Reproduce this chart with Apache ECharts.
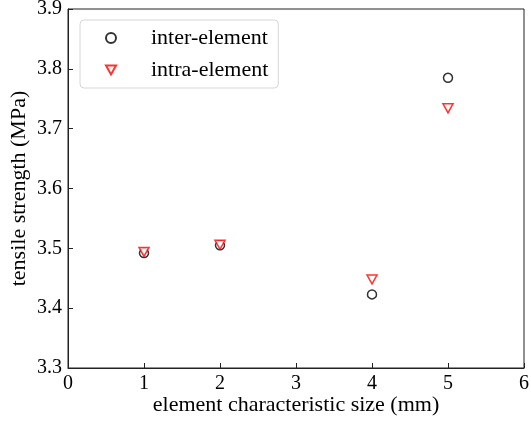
<!DOCTYPE html>
<html>
<head>
<meta charset="utf-8">
<script src="https://cdn.jsdelivr.net/npm/echarts@6/dist/echarts.min.js"></script>
<style>
  html, body { margin: 0; padding: 0; background: #fff; }
  #container { width: 531px; height: 423px; }
</style>
</head>
<body>
<div id="container"></div>
<script>
/* 数据 */
var sizes = [1, 2, 4, 5];
var interElement = [3.492, 3.505, 3.423, 3.785];
var intraElement = [3.494, 3.506, 3.448, 3.734];
var xTicks = [0, 1, 2, 3, 4, 5, 6];
var yTicks = [3.3, 3.4, 3.5, 3.6, 3.7, 3.8, 3.9];

function pairs(xs, ys) {
    var out = [];
    for (var i = 0; i < xs.length; i++) {
        out.push([xs[i], ys[i]]);
    }
    return out;
}

var serif = '"Liberation Serif", "DejaVu Serif", serif';
var triDown = 'path://M0,0 L10,0 L5,9 Z';

var dom = document.getElementById("container");
var myChart = echarts.init(dom);

var option = {
    animation: false,
    textStyle: { fontFamily: serif },
    grid: {
        left: 68, right: 7, top: 9, bottom: 55,
        outerBoundsMode: 'none',
        containLabel: false,
        show: true,
        borderColor: '#222',
        borderWidth: 1
    },
    legend: {
        orient: 'vertical',
        left: 80,
        top: 20,
        padding: [7, 10, 7, 25],
        itemWidth: 10,
        itemHeight: 10,
        itemGap: 10,
        borderColor: '#d6d6d6',
        borderWidth: 1,
        borderRadius: 4,
        textStyle: {
            fontFamily: serif,
            fontSize: 22,
            color: '#000',
            padding: [0, 0, 0, 30]
        },
        data: ['inter-element', 'intra-element']
    },
    xAxis: {
        type: 'value',
        min: xTicks[0],
        max: xTicks[xTicks.length - 1],
        interval: 1,
        name: 'element characteristic size (mm)',
        nameLocation: 'middle',
        nameMoveOverlap: false,
        nameGap: 26,
        nameTextStyle: { fontFamily: serif, fontSize: 22, color: '#000' },
        axisLine: { lineStyle: { color: '#222' } },
        axisTick: { inside: true, length: 5, lineStyle: { color: '#222' } },
        axisLabel: { fontFamily: serif, fontSize: 20, color: '#000', margin: 6 },
        splitLine: { show: false }
    },
    yAxis: {
        type: 'value',
        min: yTicks[0],
        max: yTicks[yTicks.length - 1],
        interval: 0.1,
        name: 'tensile strength (MPa)',
        nameLocation: 'middle',
        nameMoveOverlap: false,
        nameGap: 38,
        nameTextStyle: { fontFamily: serif, fontSize: 22, color: '#000' },
        axisLine: { show: true, lineStyle: { color: '#222' } },
        axisTick: { show: true, inside: true, length: 5, lineStyle: { color: '#222' } },
        axisLabel: {
            fontFamily: serif, fontSize: 20, color: '#000', margin: 6,
            formatter: function (v) { return v.toFixed(1); }
        },
        splitLine: { show: false }
    },
    series: [
        {
            name: 'inter-element',
            type: 'scatter',
            symbol: 'circle',
            symbolSize: 9,
            itemStyle: { color: '#fff', borderColor: '#000', borderWidth: 1.5 },
            data: pairs(sizes, interElement)
        },
        {
            name: 'intra-element',
            type: 'scatter',
            symbol: triDown,
            symbolSize: [10, 9],
            itemStyle: { color: '#fff', borderColor: '#ff0000', borderWidth: 1.5 },
            data: pairs(sizes, intraElement)
        }
    ]
};

myChart.setOption(option, true);
</script>
</body>
</html>
